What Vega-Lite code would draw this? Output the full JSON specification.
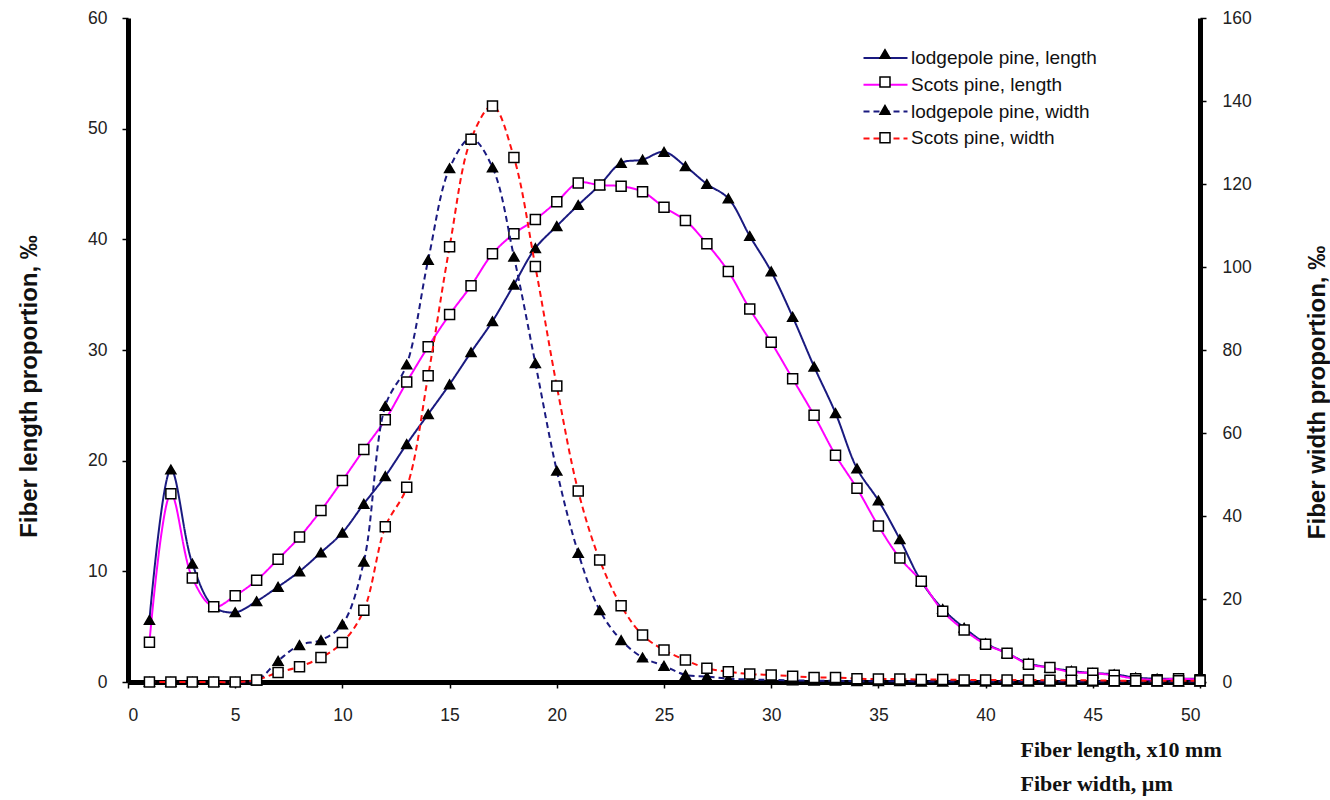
{
  "$schema": "https://vega.github.io/schema/vega-lite/v6.json",
  "width": 1072,
  "height": 664,
  "autosize": {"type": "none"},
  "padding": {"left": 128, "top": 18, "right": 130, "bottom": 118},
  "background": "white",
  "config": {
    "view": {"stroke": null},
    "font": "Liberation Sans",
    "axis": {
      "domainColor": "black",
      "domainWidth": 5,
      "tickColor": "black",
      "tickWidth": 1.5,
      "tickSize": 6,
      "labelFont": "Liberation Sans",
      "labelFontSize": 17.5,
      "labelColor": "#222222",
      "grid": false,
      "titleFont": "Liberation Sans",
      "titleFontWeight": "bold",
      "titleFontSize": 24,
      "titleColor": "#111111"
    }
  },
  "data": {
    "values": [
      {"x": 1, "lodgepole pine, length": 5.6, "Scots pine, length": 3.6, "lodgepole pine, width": 0, "Scots pine, width": 0},
      {"x": 2, "lodgepole pine, length": 19.2, "Scots pine, length": 17.0, "lodgepole pine, width": 0, "Scots pine, width": 0},
      {"x": 3, "lodgepole pine, length": 10.7, "Scots pine, length": 9.4, "lodgepole pine, width": 0, "Scots pine, width": 0},
      {"x": 4, "lodgepole pine, length": 6.8, "Scots pine, length": 6.8, "lodgepole pine, width": 0, "Scots pine, width": 0},
      {"x": 5, "lodgepole pine, length": 6.3, "Scots pine, length": 7.8, "lodgepole pine, width": 0, "Scots pine, width": 0},
      {"x": 6, "lodgepole pine, length": 7.3, "Scots pine, length": 9.2, "lodgepole pine, width": 0.3, "Scots pine, width": 0.5},
      {"x": 7, "lodgepole pine, length": 8.6, "Scots pine, length": 11.1, "lodgepole pine, width": 5.1, "Scots pine, width": 2.3},
      {"x": 8, "lodgepole pine, length": 10.0, "Scots pine, length": 13.1, "lodgepole pine, width": 8.9, "Scots pine, width": 3.7},
      {"x": 9, "lodgepole pine, length": 11.7, "Scots pine, length": 15.5, "lodgepole pine, width": 10.1, "Scots pine, width": 5.9},
      {"x": 10, "lodgepole pine, length": 13.5, "Scots pine, length": 18.2, "lodgepole pine, width": 13.9, "Scots pine, width": 9.5},
      {"x": 11, "lodgepole pine, length": 16.1, "Scots pine, length": 21.0, "lodgepole pine, width": 29.0, "Scots pine, width": 17.3},
      {"x": 12, "lodgepole pine, length": 18.6, "Scots pine, length": 23.7, "lodgepole pine, width": 66.5, "Scots pine, width": 37.4},
      {"x": 13, "lodgepole pine, length": 21.5, "Scots pine, length": 27.1, "lodgepole pine, width": 76.5, "Scots pine, width": 46.9},
      {"x": 14, "lodgepole pine, length": 24.2, "Scots pine, length": 30.3, "lodgepole pine, width": 101.7, "Scots pine, width": 73.8},
      {"x": 15, "lodgepole pine, length": 26.9, "Scots pine, length": 33.2, "lodgepole pine, width": 123.8, "Scots pine, width": 104.9},
      {"x": 16, "lodgepole pine, length": 29.8, "Scots pine, length": 35.8, "lodgepole pine, width": 131.0, "Scots pine, width": 130.8},
      {"x": 17, "lodgepole pine, length": 32.6, "Scots pine, length": 38.7, "lodgepole pine, width": 124.0, "Scots pine, width": 138.8},
      {"x": 18, "lodgepole pine, length": 35.9, "Scots pine, length": 40.5, "lodgepole pine, width": 102.5, "Scots pine, width": 126.4},
      {"x": 19, "lodgepole pine, length": 39.2, "Scots pine, length": 41.8, "lodgepole pine, width": 76.8, "Scots pine, width": 100.1},
      {"x": 20, "lodgepole pine, length": 41.2, "Scots pine, length": 43.4, "lodgepole pine, width": 50.9, "Scots pine, width": 71.3},
      {"x": 21, "lodgepole pine, length": 43.1, "Scots pine, length": 45.1, "lodgepole pine, width": 31.1, "Scots pine, width": 46.0},
      {"x": 22, "lodgepole pine, length": 44.9, "Scots pine, length": 44.9, "lodgepole pine, width": 17.3, "Scots pine, width": 29.4},
      {"x": 23, "lodgepole pine, length": 46.9, "Scots pine, length": 44.8, "lodgepole pine, width": 10.1, "Scots pine, width": 18.4},
      {"x": 24, "lodgepole pine, length": 47.2, "Scots pine, length": 44.3, "lodgepole pine, width": 5.9, "Scots pine, width": 11.3},
      {"x": 25, "lodgepole pine, length": 47.9, "Scots pine, length": 42.9, "lodgepole pine, width": 3.9, "Scots pine, width": 7.7},
      {"x": 26, "lodgepole pine, length": 46.6, "Scots pine, length": 41.7, "lodgepole pine, width": 1.7, "Scots pine, width": 5.3},
      {"x": 27, "lodgepole pine, length": 45.0, "Scots pine, length": 39.6, "lodgepole pine, width": 1.3, "Scots pine, width": 3.3},
      {"x": 28, "lodgepole pine, length": 43.7, "Scots pine, length": 37.1, "lodgepole pine, width": 0.8, "Scots pine, width": 2.5},
      {"x": 29, "lodgepole pine, length": 40.3, "Scots pine, length": 33.7, "lodgepole pine, width": 0.6, "Scots pine, width": 1.9},
      {"x": 30, "lodgepole pine, length": 37.1, "Scots pine, length": 30.7, "lodgepole pine, width": 0.5, "Scots pine, width": 1.7},
      {"x": 31, "lodgepole pine, length": 33.0, "Scots pine, length": 27.4, "lodgepole pine, width": 0.4, "Scots pine, width": 1.4},
      {"x": 32, "lodgepole pine, length": 28.5, "Scots pine, length": 24.1, "lodgepole pine, width": 0.3, "Scots pine, width": 1.1},
      {"x": 33, "lodgepole pine, length": 24.3, "Scots pine, length": 20.5, "lodgepole pine, width": 0.3, "Scots pine, width": 1.1},
      {"x": 34, "lodgepole pine, length": 19.3, "Scots pine, length": 17.5, "lodgepole pine, width": 0.2, "Scots pine, width": 0.8},
      {"x": 35, "lodgepole pine, length": 16.4, "Scots pine, length": 14.1, "lodgepole pine, width": 0.2, "Scots pine, width": 0.7},
      {"x": 36, "lodgepole pine, length": 12.9, "Scots pine, length": 11.2, "lodgepole pine, width": 0.2, "Scots pine, width": 0.7},
      {"x": 37, "lodgepole pine, length": 9.1, "Scots pine, length": 9.1, "lodgepole pine, width": 0.1, "Scots pine, width": 0.6},
      {"x": 38, "lodgepole pine, length": 6.6, "Scots pine, length": 6.4, "lodgepole pine, width": 0.1, "Scots pine, width": 0.6},
      {"x": 39, "lodgepole pine, length": 4.9, "Scots pine, length": 4.7, "lodgepole pine, width": 0.1, "Scots pine, width": 0.5},
      {"x": 40, "lodgepole pine, length": 3.5, "Scots pine, length": 3.4, "lodgepole pine, width": 0.1, "Scots pine, width": 0.5},
      {"x": 41, "lodgepole pine, length": 2.6, "Scots pine, length": 2.6, "lodgepole pine, width": 0.1, "Scots pine, width": 0.5},
      {"x": 42, "lodgepole pine, length": 1.7, "Scots pine, length": 1.6, "lodgepole pine, width": 0.1, "Scots pine, width": 0.5},
      {"x": 43, "lodgepole pine, length": 1.3, "Scots pine, length": 1.3, "lodgepole pine, width": 0.1, "Scots pine, width": 0.4},
      {"x": 44, "lodgepole pine, length": 1.0, "Scots pine, length": 0.9, "lodgepole pine, width": 0.1, "Scots pine, width": 0.4},
      {"x": 45, "lodgepole pine, length": 0.8, "Scots pine, length": 0.8, "lodgepole pine, width": 0.1, "Scots pine, width": 0.4},
      {"x": 46, "lodgepole pine, length": 0.7, "Scots pine, length": 0.6, "lodgepole pine, width": 0.1, "Scots pine, width": 0.3},
      {"x": 47, "lodgepole pine, length": 0.4, "Scots pine, length": 0.3, "lodgepole pine, width": 0.1, "Scots pine, width": 0.3},
      {"x": 48, "lodgepole pine, length": 0.3, "Scots pine, length": 0.2, "lodgepole pine, width": 0.1, "Scots pine, width": 0.3},
      {"x": 49, "lodgepole pine, length": 0.3, "Scots pine, length": 0.3, "lodgepole pine, width": 0.1, "Scots pine, width": 0.3},
      {"x": 50, "lodgepole pine, length": 0.3, "Scots pine, length": 0.2, "lodgepole pine, width": 0.1, "Scots pine, width": 0.3}
    ]
  },
  "encoding": {
    "x": {
      "field": "x",
      "type": "quantitative",
      "scale": {"domain": [0, 50], "nice": false, "zero": false},
      "axis": {
        "values": [0, 5, 10, 15, 20, 25, 30, 35, 40, 45, 50],
        "labelPadding": 18,
        "title": ["Fiber length, x10 mm", "Fiber width, µm"],
        "titleFont": "Liberation Serif",
        "titleFontSize": 22,
        "titleAlign": "left",
        "titleBaseline": "top",
        "titleX": 892,
        "titleY": 57,
        "titleLineHeight": 34
      }
    }
  },
  "layer": [
    {
      "transform": [{"fold": ["lodgepole pine, length", "Scots pine, length"], "as": ["series", "value"]}],
      "encoding": {
        "y": {
          "field": "value",
          "type": "quantitative",
          "scale": {"domain": [0, 60], "nice": false},
          "axis": {
            "orient": "left",
            "values": [0, 10, 20, 30, 40, 50, 60],
            "labelPadding": 15,
            "title": "Fiber length proportion, ‰",
            "titleAngle": -90,
            "titleBaseline": "middle",
            "titleAlign": "center",
            "titleX": -99,
            "titleY": 368
          }
        }
      },
      "layer": [
        {
          "mark": {"type": "line", "interpolate": "catmull-rom", "strokeWidth": 2},
          "encoding": {
            "color": {
              "field": "series",
              "type": "nominal",
              "scale": {
                "domain": ["lodgepole pine, length", "Scots pine, length", "lodgepole pine, width", "Scots pine, width"],
                "range": ["#1a1a80", "#ff00ff", "#1a1a80", "#ff1010"]
              },
              "legend": {
                "orient": "none",
                "legendX": 748,
                "legendY": 30.5,
                "title": null,
                "padding": 0,
                "symbolType": "M-4,0H4",
                "symbolSize": 121,
                "symbolStrokeWidth": 2,
                "labelFont": "Liberation Sans",
                "labelFontSize": 19,
                "labelLimit": 400,
                "labelColor": "#111111",
                "labelOffset": 16,
                "rowPadding": 6.8
              }
            },
            "strokeDash": {
              "field": "series",
              "type": "nominal",
              "scale": {
                "domain": ["lodgepole pine, length", "Scots pine, length", "lodgepole pine, width", "Scots pine, width"],
                "range": [[1, 0], [1, 0], [6, 4], [6, 4]]
              }
            }
          }
        },
        {
          "transform": [{"calculate": "datum.series", "as": "marker"}],
          "mark": {"type": "point", "stroke": "black", "strokeWidth": 1.5, "opacity": 1, "size": 100},
          "encoding": {
            "shape": {
              "field": "marker",
              "type": "nominal",
              "sort": ["lodgepole pine, length", "Scots pine, length", "lodgepole pine, width", "Scots pine, width"],
              "scale": {"range": ["triangle-up", "square", "triangle-up", "square"]},
              "legend": {
                "orient": "none",
                "legendX": 749,
                "legendY": 28,
                "title": null,
                "padding": 0,
                "symbolSize": 100,
                "symbolFillColor": {"expr": "indexof(datum.value, 'Scots') == 0 ? 'white' : 'black'"},
                "symbolStrokeColor": "black",
                "symbolStrokeWidth": 1.5,
                "labelExpr": "''",
                "labelFontSize": 16,
                "rowPadding": 11.9
              }
            },
            "fill": {
              "field": "marker",
              "type": "nominal",
              "sort": ["lodgepole pine, length", "Scots pine, length", "lodgepole pine, width", "Scots pine, width"],
              "scale": {"range": ["black", "white", "black", "white"]},
              "legend": null
            }
          }
        }
      ]
    },
    {
      "transform": [{"fold": ["lodgepole pine, width", "Scots pine, width"], "as": ["series", "value"]}],
      "encoding": {
        "y": {
          "field": "value",
          "type": "quantitative",
          "scale": {"domain": [0, 160], "nice": false},
          "axis": {
            "orient": "right",
            "values": [0, 20, 40, 60, 80, 100, 120, 140, 160],
            "labelPadding": 16,
            "title": "Fiber  width proportion, ‰",
            "titleAngle": -90,
            "titleBaseline": "middle",
            "titleAlign": "center",
            "titleX": 117,
            "titleY": 374
          }
        }
      },
      "layer": [
        {
          "mark": {"type": "line", "interpolate": "catmull-rom", "strokeWidth": 2},
          "encoding": {
            "color": {"field": "series", "type": "nominal"},
            "strokeDash": {"field": "series", "type": "nominal"}
          }
        },
        {
          "transform": [{"calculate": "datum.series", "as": "marker"}],
          "mark": {"type": "point", "stroke": "black", "strokeWidth": 1.5, "opacity": 1, "size": 100},
          "encoding": {
            "shape": {"field": "marker", "type": "nominal", "sort": ["lodgepole pine, length", "Scots pine, length", "lodgepole pine, width", "Scots pine, width"]},
            "fill": {"field": "marker", "type": "nominal", "sort": ["lodgepole pine, length", "Scots pine, length", "lodgepole pine, width", "Scots pine, width"], "legend": null}
          }
        }
      ]
    }
  ],
  "resolve": {"scale": {"y": "independent"}}
}
